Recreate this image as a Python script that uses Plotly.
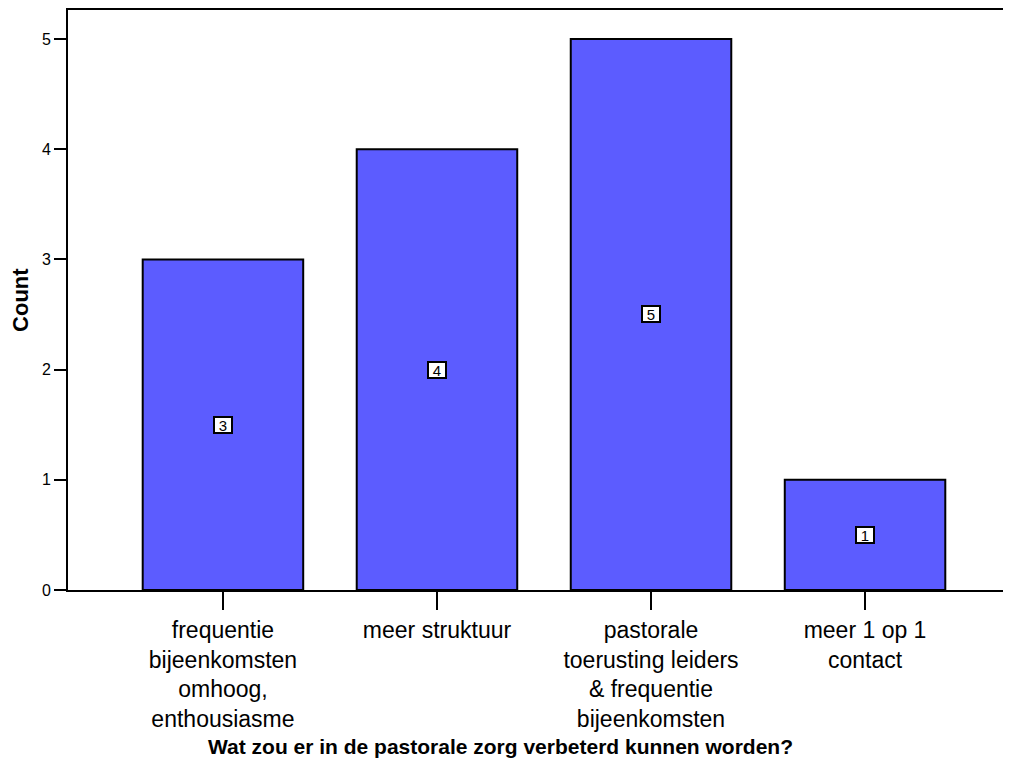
import plotly.graph_objects as go

categories = [
    "frequentie<br>bijeenkomsten<br>omhoog,<br>enthousiasme",
    "meer struktuur",
    "pastorale<br>toerusting leiders<br>&amp; frequentie<br>bijeenkomsten",
    "meer 1 op 1<br>contact",
]
counts = [3, 4, 5, 1]
y_ticks = [0, 1, 2, 3, 4, 5]
x_title = "Wat zou er in de pastorale zorg verbeterd kunnen worden?"
y_title = "Count"

FONT = "Liberation Sans, Arial, sans-serif"

fig = go.Figure()
fig.add_trace(go.Bar(
    x=categories, y=counts, width=0.75,
    marker=dict(color="#5c5cff", line=dict(color="black", width=2)),
    hoverinfo="skip",
))

for c, v in zip(categories, counts):
    fig.add_annotation(
        x=c, y=v / 2, xref="x", yref="y", text=str(v), showarrow=False,
        font=dict(family=FONT, size=15, color="black"),
        width=14, height=12,
        bgcolor="white", bordercolor="black", borderwidth=2, borderpad=1,
    )

fig.add_annotation(
    x=0.459, y=-0.269, xref="paper", yref="paper", text="<b>" + x_title + "</b>",
    showarrow=False, xanchor="center", yanchor="middle",
    font=dict(family=FONT, size=21, color="black"),
)
fig.add_annotation(
    x=-0.051, y=0.5, xref="paper", yref="paper", text="<b>" + y_title + "</b>",
    showarrow=False, xanchor="center", yanchor="middle", textangle=-90,
    font=dict(family=FONT, size=22, color="black"),
)

fig.update_layout(
    width=1003, height=754,
    margin=dict(l=60, r=0, t=2, b=172),
    paper_bgcolor="white", plot_bgcolor="white",
    showlegend=False,
    font=dict(family=FONT, color="black"),
    xaxis=dict(
        type="category", range=[-0.724, 3.682],
        showline=True, linecolor="black", linewidth=2, mirror=True,
        ticks="outside", ticklen=18, tickwidth=2, tickcolor="black",
        tickfont=dict(family=FONT, size=23, color="black"),
        showgrid=False, zeroline=False,
    ),
    yaxis=dict(
        range=[0, 5.263], tickvals=y_ticks,
        showline=True, linecolor="black", linewidth=2,
        ticks="outside", ticklen=12, tickwidth=2, tickcolor="black",
        tickfont=dict(family=FONT, size=16, color="black"),
        showgrid=False, zeroline=False,
    ),
)

fig.write_html("out.html")
